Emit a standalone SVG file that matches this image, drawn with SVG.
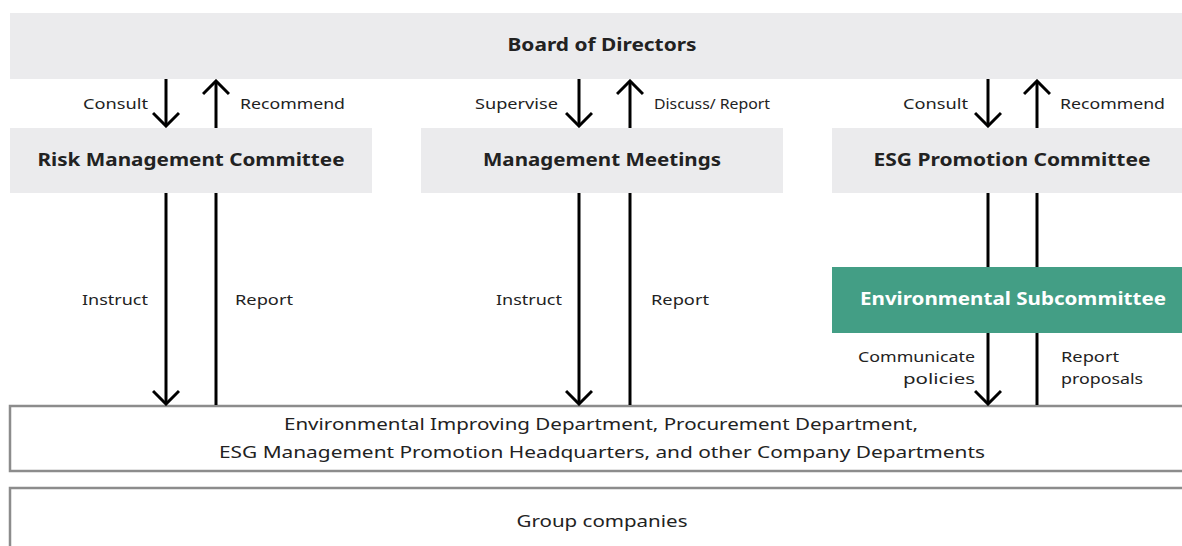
<svg xmlns="http://www.w3.org/2000/svg" width="1182" height="546" viewBox="0 0 1182 546">
<style>
.box{fill:#ebebed}
.frame{fill:#fff;stroke:#8c8c8c;stroke-width:2.5}
.t{font-family:"Noto Sans","Noto Sans CJK JP",sans-serif;fill:#222}
.b{font-size:18px;font-weight:bold;text-anchor:middle}
.l{font-size:15px}
.d{font-size:17px;text-anchor:middle}
.ln{stroke:#000;stroke-width:3;fill:none}
</style>
<defs>
<marker id="ah" viewBox="0 0 20 28" refX="18" refY="14" markerWidth="20" markerHeight="28" markerUnits="userSpaceOnUse" orient="auto-start-reverse">
<path d="M5,1 L18,14 L5,27" fill="none" stroke="#000" stroke-width="3"/>
</marker>
</defs>
<g id="board"><rect class="box" x="10" y="13" width="1172" height="66"/><text class="t b" x="602" y="51" textLength="189" lengthAdjust="spacingAndGlyphs">Board of Directors</text></g>
<g id="risk"><rect class="box" x="10" y="128" width="362" height="65"/><text class="t b" x="191" y="166" textLength="307" lengthAdjust="spacingAndGlyphs">Risk Management Committee</text></g>
<g id="mgmt"><rect class="box" x="421" y="128" width="362" height="65"/><text class="t b" x="602" y="166" textLength="238" lengthAdjust="spacingAndGlyphs">Management Meetings</text></g>
<g id="esg"><rect class="box" x="832" y="128" width="350" height="65"/><text class="t b" x="1012" y="166" textLength="277" lengthAdjust="spacingAndGlyphs">ESG Promotion Committee</text></g>
<g id="envsub"><rect x="832" y="267" width="350" height="66" fill="#439e85"/><text class="t b" x="1013" y="305" style="fill:#fff" textLength="306" lengthAdjust="spacingAndGlyphs">Environmental Subcommittee</text></g>
<g id="depts"><rect class="frame" x="10" y="406" width="1180" height="65"/><text class="t d" x="601" y="430" textLength="634" lengthAdjust="spacingAndGlyphs">Environmental Improving Department, Procurement Department,</text><text class="t d" x="602" y="458" textLength="766" lengthAdjust="spacingAndGlyphs">ESG Management Promotion Headquarters, and other Company Departments</text></g>
<g id="group"><rect class="frame" x="10" y="488" width="1180" height="70"/><text class="t d" x="602" y="527" textLength="171" lengthAdjust="spacingAndGlyphs">Group companies</text></g>
<g id="connectors">
<line class="ln" x1="166" y1="79" x2="166" y2="126" marker-end="url(#ah)"/>
<line class="ln" x1="216" y1="128" x2="216" y2="81" marker-end="url(#ah)"/>
<line class="ln" x1="166" y1="193" x2="166" y2="404" marker-end="url(#ah)"/>
<line class="ln" x1="216" y1="405" x2="216" y2="193"/>
<line class="ln" x1="579" y1="79" x2="579" y2="126" marker-end="url(#ah)"/>
<line class="ln" x1="630" y1="128" x2="630" y2="81" marker-end="url(#ah)"/>
<line class="ln" x1="579" y1="193" x2="579" y2="404" marker-end="url(#ah)"/>
<line class="ln" x1="630" y1="405" x2="630" y2="193"/>
<line class="ln" x1="988" y1="79" x2="988" y2="126" marker-end="url(#ah)"/>
<line class="ln" x1="1037" y1="128" x2="1037" y2="81" marker-end="url(#ah)"/>
<line class="ln" x1="988" y1="193" x2="988" y2="267"/>
<line class="ln" x1="1037" y1="193" x2="1037" y2="267"/>
<line class="ln" x1="988" y1="333" x2="988" y2="404" marker-end="url(#ah)"/>
<line class="ln" x1="1037" y1="405" x2="1037" y2="333"/>
</g>
<g id="labels">
<text class="t l" x="83" y="109" textLength="65" lengthAdjust="spacingAndGlyphs">Consult</text>
<text class="t l" x="240" y="109" textLength="105" lengthAdjust="spacingAndGlyphs">Recommend</text>
<text class="t l" x="475" y="109" textLength="83" lengthAdjust="spacingAndGlyphs">Supervise</text>
<text class="t l" x="654" y="109" textLength="116" lengthAdjust="spacingAndGlyphs">Discuss/ Report</text>
<text class="t l" x="903" y="109" textLength="65" lengthAdjust="spacingAndGlyphs">Consult</text>
<text class="t l" x="1060" y="109" textLength="105" lengthAdjust="spacingAndGlyphs">Recommend</text>
<text class="t l" x="82" y="305" textLength="66" lengthAdjust="spacingAndGlyphs">Instruct</text>
<text class="t l" x="235" y="305" textLength="58" lengthAdjust="spacingAndGlyphs">Report</text>
<text class="t l" x="496" y="305" textLength="66" lengthAdjust="spacingAndGlyphs">Instruct</text>
<text class="t l" x="651" y="305" textLength="58" lengthAdjust="spacingAndGlyphs">Report</text>
<text class="t l" x="858" y="362" textLength="117" lengthAdjust="spacingAndGlyphs">Communicate</text>
<text class="t l" x="903" y="384" textLength="72" lengthAdjust="spacingAndGlyphs">policies</text>
<text class="t l" x="1061" y="362" textLength="58" lengthAdjust="spacingAndGlyphs">Report</text>
<text class="t l" x="1061" y="384" textLength="82" lengthAdjust="spacingAndGlyphs">proposals</text>
</g>
</svg>
